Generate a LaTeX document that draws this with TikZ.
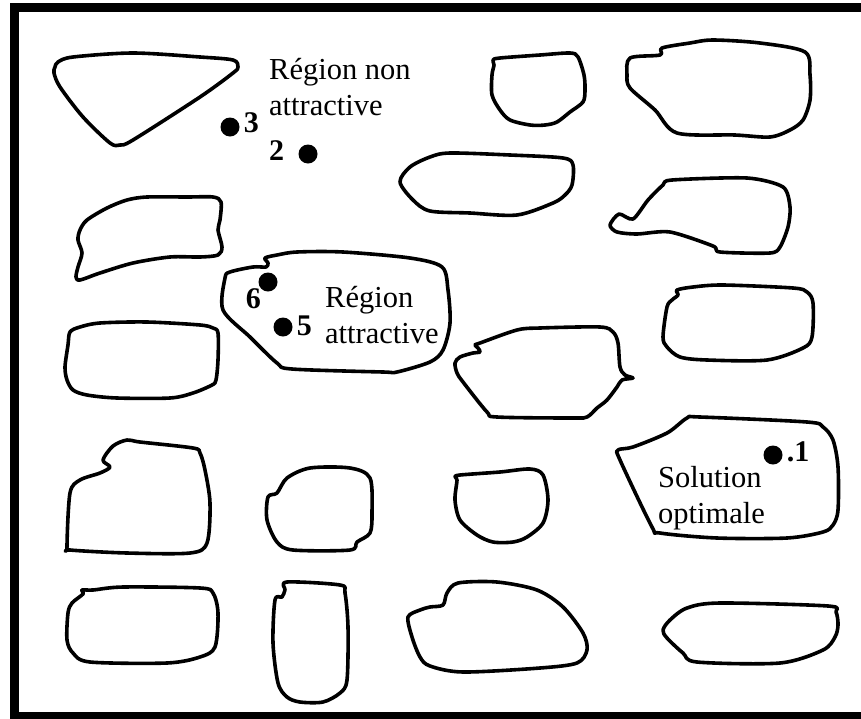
\documentclass[tikz,border=0pt]{standalone}
\usepackage{fontspec}
\setmainfont{Liberation Serif}
\usetikzlibrary{positioning}

\begin{document}
\begin{tikzpicture}[x=1pt, y=-1pt,
  blob/.style={line width=3.6pt, line join=round},
  dot/.style={circle, fill, inner sep=0pt, minimum size=19pt},
  num/.style={inner sep=0pt, font=\fontsize{30}{36}\selectfont\bfseries},
  txt/.style={inner sep=0pt, align=left, anchor=base west, font=\fontsize{30.5}{36}\selectfont}]
  \useasboundingbox (0,0) rectangle (861,718);
  \clip (0,0) rectangle (861,718);
  % cadre
  \draw[line width=8.5pt] (900,7.5) -- (14.5,7.5) -- (14.5,716.5) -- (900,716.5);

  % rangee 1
  \draw[blob] plot[smooth cycle, tension=0.5] coordinates {(55,67) (58,62) (73,57) (133,53) (200,57) (233,60) (238,67) (233,73) (200,97) (133,140) (120,145) (110,143) (83,117) (60,87) (54,73)};
  \draw[blob] plot[smooth cycle, tension=0.5] coordinates {(493,60) (500,58) (540,55) (570,53) (578,57) (584,75) (585,90) (583,102) (570,112) (557,122) (545,125) (530,125) (510,120) (500,110) (492,95) (492,75) (494,65)};
  \draw[blob] plot[smooth cycle, tension=0.5] coordinates {(630,58) (660,55) (662,48) (690,43) (713,40) (760,43) (805,52) (810,75) (810,100) (803,120) (790,130) (770,137) (735,135) (677,133) (655,110) (630,88) (627,75)};

  % rangee 2
  \draw[blob] plot[smooth cycle, tension=0.5] coordinates {(80,230) (87,220) (107,208) (127,200) (147,197) (187,197) (213,197) (221,202) (220,220) (218,230) (222,247) (218,255) (200,257) (170,257) (133,263) (100,273) (80,280) (76,277) (78,267) (82,253) (78,240)};
  \draw[blob] plot[smooth cycle, tension=0.5] coordinates {(430,157) (450,153) (510,155) (563,158) (573,165) (572,185) (565,195) (553,203) (517,215) (470,213) (430,211) (413,200) (400,182) (410,167)};
  \draw[blob] plot[smooth cycle, tension=0.45] coordinates {(610,225) (619,214) (633,219) (648,200) (663,185) (672,180) (747,178) (783,187) (790,207) (788,227) (780,247) (770,253) (720,252) (713,246) (670,232) (637,234) (617,232)};

  % rangee 3
  \draw[blob] plot[smooth cycle, tension=0.5] coordinates {(80,327) (100,323) (147,322) (200,325) (213,328) (218,333) (218,360) (216,380) (212,385) (193,393) (170,398) (117,398) (87,395) (73,390) (67,380) (65,367) (68,345) (70,332)};
  \draw[blob] plot[smooth cycle, tension=0.5] coordinates {(265,258) (268,263) (266,267) (253,267) (230,272) (225,278) (223,310) (250,337) (277,363) (292,369) (383,372) (397,372) (430,362) (443,350) (450,323) (448,290) (442,267) (410,258) (343,252) (297,252) (277,255)};
  \draw[blob] plot[smooth cycle, tension=0.5] coordinates {(475,345) (480,343) (517,330) (540,328) (600,327) (613,332) (618,343) (620,367) (625,375) (633,378) (622,380) (617,387) (607,400) (597,408) (587,417) (573,418) (497,417) (487,412) (463,382) (457,373) (455,363) (460,357) (473,353) (480,352) (478,348)};
  \draw[blob] plot[smooth cycle, tension=0.5] coordinates {(677,290) (678,295) (672,300) (667,307) (663,337) (667,347) (680,357) (707,360) (767,360) (803,348) (812,337) (813,303) (807,292) (793,288) (723,285) (693,287)};

  % rangee 4
  \draw[blob] plot[smooth cycle, tension=0.5] coordinates {(127,440) (113,446) (103,460) (110,467) (100,473) (80,480) (70,493) (67,547) (70,550) (127,553) (190,553) (207,543) (210,503) (205,470) (200,453) (193,448) (140,442)};
  \draw[blob] plot[smooth cycle, tension=0.5] coordinates {(310,468) (350,468) (370,478) (372,513) (370,533) (357,542) (350,550) (293,550) (277,542) (267,520) (268,497) (277,493) (287,478)};
  \draw[blob] plot[smooth cycle, tension=0.5] coordinates {(455,477) (460,475) (500,472) (530,469) (543,475) (548,500) (543,523) (527,537) (513,542) (493,542) (477,535) (460,520) (455,500) (457,480)};
  \draw[blob] plot[smooth cycle, tension=0.5] coordinates {(618,450) (633,447) (667,433) (687,418) (700,417) (807,422) (823,427) (833,440) (838,467) (838,510) (833,525) (823,532) (787,538) (717,538) (660,533) (652,527) (620,460)};

  % rangee 5
  \draw[blob] plot[smooth cycle, tension=0.5] coordinates {(82,590) (83,594) (72,603) (68,613) (67,640) (73,653) (90,662) (167,663) (200,657) (215,647) (218,613) (213,593) (200,588) (123,587) (93,590)};
  \draw[blob] plot[smooth cycle, tension=0.5] coordinates {(287,582) (340,585) (345,593) (348,627) (347,680) (340,693) (323,702) (300,702) (287,697) (278,683) (273,643) (275,600) (282,597) (285,590)};
  \draw[blob] plot[smooth cycle, tension=0.5] coordinates {(458,583) (497,582) (537,590) (563,607) (583,633) (587,650) (577,663) (540,668) (463,672) (430,666) (420,657) (412,637) (408,617) (420,610) (430,607) (443,605) (447,593)};
  \draw[blob] plot[smooth cycle, tension=0.5] coordinates {(663,630) (670,620) (687,608) (720,603) (828,606) (836,612) (838,625) (835,637) (823,650) (780,663) (697,662) (683,653) (667,638)};

  % points
  \node[dot] (d1) at (773,455) {};
  \node[dot] (d2) at (308,154) {};
  \node[dot] (d3) at (230,127) {};
  \node[dot] (d5) at (283,327) {};
  \node[dot] (d6) at (268,282) {};
  \node[num, right=4pt of d1, yshift=3pt] (n1) {.1};
  \node[num, left=14pt of d2, yshift=3pt] (n2) {2};
  \node[num, right=4pt of d3, yshift=4pt] (n3) {3};
  \node[num, right=4pt of d5, yshift=1pt] (n5) {5};
  \node[num, anchor=north east] (n6) at (d6.south west) {6};

  % textes
  \node[txt] (nonattr) at (269,115) {Région non\\attractive};
  \node[txt] (attr) at (325,343) {Région\\attractive};
  \node[txt] (optim) at (658,523) {Solution\\optimale};
\end{tikzpicture}
\end{document}
